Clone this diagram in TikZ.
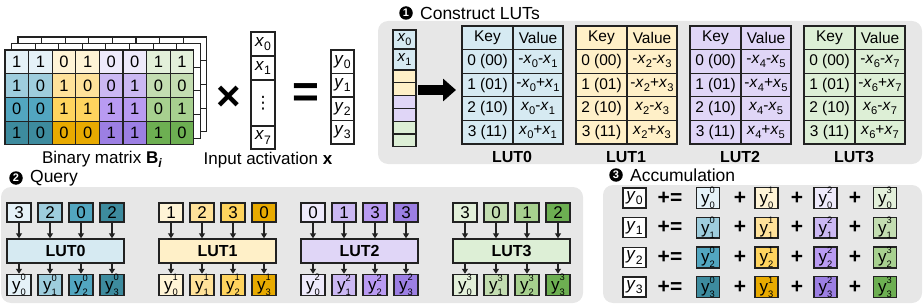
\documentclass[tikz,border=0pt]{standalone}
\usepackage{fontspec}
\setmainfont{Liberation Sans}
\newfontfamily\symf{DejaVu Sans}
\usepackage{graphicx}
\usetikzlibrary{arrows.meta,positioning,calc}

\definecolor{g0r0}{HTML}{E5F2F8}
\definecolor{g0r1}{HTML}{9ECDDD}
\definecolor{g0r2}{HTML}{52A6C0}
\definecolor{g0r3}{HTML}{3D8B9E}
\definecolor{g0t}{HTML}{D6EAF2}
\definecolor{g1r0}{HTML}{FFF4D6}
\definecolor{g1r1}{HTML}{FFE29A}
\definecolor{g1r2}{HTML}{FFD45E}
\definecolor{g1r3}{HTML}{E8AA00}
\definecolor{g1t}{HTML}{FFF0C8}
\definecolor{g2r0}{HTML}{EEEAFB}
\definecolor{g2r1}{HTML}{CBB8F3}
\definecolor{g2r2}{HTML}{B99BF2}
\definecolor{g2r3}{HTML}{9C7FE3}
\definecolor{g2t}{HTML}{E0D6F7}
\definecolor{g3r0}{HTML}{E3F0DA}
\definecolor{g3r1}{HTML}{C3DDB1}
\definecolor{g3r2}{HTML}{A7D08F}
\definecolor{g3r3}{HTML}{6DAF52}
\definecolor{g3t}{HTML}{DDEFD6}
\definecolor{panel}{HTML}{E7E7E7}
\definecolor{edge}{HTML}{222222}

\newcommand\lo[1]{\raisebox{-0.25em}{\scalebox{0.72}{#1}}}
\newcommand\xs[1]{\textit{x}\lo{#1}}
\newcommand\ys[1]{\textit{y}\lo{#1}}
\newcommand\yq[2]{y\rlap{\raisebox{0.55em}{\scalebox{0.55}{#1}}}\raisebox{-0.3em}{\scalebox{0.55}{#2}}}

\begin{document}
\begin{tikzpicture}[
    x=1pt, y=-1pt,
    cell/.style={
      draw=edge,
      line width=1.1pt,
      outer sep=0pt,
      inner sep=0pt,
      minimum width=23.6pt,
      minimum height=23.7pt,
      font=\fontsize{16.5}{16.5}\selectfont
    },
    vcell/.style={
      draw=edge,
      line width=1.1pt,
      outer sep=0pt,
      inner sep=0pt,
      fill=white,
      minimum width=24pt,
      font=\fontsize{17}{17}\selectfont
    },
    scell/.style={vcell, minimum width=23pt, font=\fontsize{15}{15}\selectfont},
    tcell/.style={
      draw=edge,
      line width=1.1pt,
      outer sep=0pt,
      inner sep=0pt,
      minimum height=23.6pt,
      font=\fontsize{15.5}{15.5}\selectfont
    },
    qbox/.style={
      draw=edge,
      line width=1.4pt,
      inner sep=0pt,
      minimum width=24pt,
      minimum height=19pt,
      font=\fontsize{17}{17}\selectfont
    },
    lutbar/.style={qbox, minimum width=117pt, minimum height=24pt, font=\bfseries\fontsize{16}{16}\selectfont},
    abox/.style={qbox, minimum width=23pt, minimum height=20pt, font=\fontsize{17}{17}\selectfont},
    op/.style={font=\bfseries\fontsize{21}{21}\selectfont, inner sep=0pt},
    bigop/.style={font=\bfseries\fontsize{42}{42}\selectfont, inner sep=0pt},
    numdot/.style={circle, fill=black, text=white, inner sep=0pt, minimum size=13.5pt, font=\bfseries\fontsize{11}{11}\selectfont},
    title/.style={font=\fontsize{17.5}{17.5}\selectfont, inner sep=0pt},
    lbl/.style={font=\fontsize{17}{17}\selectfont, inner sep=0pt},
    lutlbl/.style={font=\bfseries\fontsize{16}{16}\selectfont, inner sep=0pt},
    qarr/.style={-{Triangle[length=5pt,width=6pt]}, draw=edge, line width=1.2pt},
    bigarrow/.style={-{Triangle[length=13pt,width=22pt]}, line width=9pt}
  ]

  \useasboundingbox (0,0) rectangle (924,305);

  % panels
  \fill[panel, rounded corners=10pt] (378,21) rectangle (922,164);
  \fill[panel, rounded corners=10pt] (1,187) rectangle (583,303);
  \fill[panel, rounded corners=10pt] (603,185) rectangle (922,303);

  % binary matrix with the layers behind it
  \foreach \k in {2,1}
    \foreach \r in {0,...,3}
      \foreach \c in {0,...,7}
        \node[cell, fill=white] (l\k-\r-\c) at ({16.8+23.6*\c+6.5*\k},{61.9+23.7*\r-6.5*\k}) {};
  \foreach \row [count=\r from 0] in {{1,1,0,1,0,0,1,1},{1,0,1,0,0,1,0,0},{0,0,1,1,1,1,0,1},{1,0,0,0,1,1,1,0}}
    \foreach \b [count=\c from 0] in \row {
      \pgfmathtruncatemacro\g{\c/2}
      \node[cell, fill=g\g r\r] (b-\r-\c) at ({16.8+23.6*\c},{61.9+23.7*\r}) {\b};
    }
  \node[lbl] (blbl) at (102,159) {Binary matrix \textbf{B}\lo{\textbf{\textit{i}}}};

  \node[bigop] (times) at (229,98) {×};

  \node[vcell, minimum height=24pt] (x0) at (263,44) {\xs{0}};
  \node[vcell, minimum height=24pt, below=0pt of x0] (x1) {\xs{1}};
  \node[vcell, minimum height=46pt, below=0pt of x1] (xd) {\symf ⋮};
  \node[vcell, minimum height=23pt, below=0pt of xd] (x7) {\xs{7}};
  \node[lbl] (xlbl) at (268,160) {Input activation \textbf{x}};

  \node[bigop, font=\bfseries\fontsize{46}{46}\selectfont] (eq) at (306,96) {=};

  \foreach \i in {0,...,3}
    \node[vcell, minimum width=23pt, minimum height=23.5pt] (y\i) at (342.5,{61.75+23.5*\i}) {\ys{\i}};

  % construct LUTs
  \node[numdot] (n1) at (406,13) {1};
  \node[title, right=7pt of n1] (t1) {Construct LUTs};

  \node[scell, fill=g0t, minimum height=19pt] (s0) at (404.5,39.5) {\xs{0}};
  \node[scell, fill=g0t, minimum height=21pt, below=0pt of s0] (s1) {\xs{1}};
  \node[scell, fill=g1t, minimum height=12.8pt, below=0pt of s1] (s2) {};
  \node[scell, fill=g1t, minimum height=12.8pt, below=0pt of s2] (s3) {};
  \node[scell, fill=g2t, minimum height=12.8pt, below=0pt of s3] (s4) {};
  \node[scell, fill=g2t, minimum height=12.8pt, below=0pt of s4] (s5) {};
  \node[scell, fill=g3t, minimum height=12.8pt, below=0pt of s5] (s6) {};
  \node[scell, fill=g3t, minimum height=12.8pt, below=0pt of s6] (s7) {};

  \coordinate (ar-a) at (418,90);
  \coordinate (ar-b) at (456,90);
  \draw[bigarrow] (ar-a) -- (ar-b);

  \foreach \k in {0,...,3} {
    \pgfmathtruncatemacro\a{2*\k}
    \pgfmathtruncatemacro\b{2*\k+1}
    \node[tcell, fill=g\k t, minimum width=51pt] (t\k-0-0) at ({487.5+114*\k},37.8) {Key};
    \node[tcell, fill=g\k t, minimum width=50pt] (t\k-0-1) at ({538+114*\k},37.8) {Value};
    \foreach \kk/\vv [count=\r from 1] in {0 (00)/-\xs{\a}-\xs{\b}, 1 (01)/-\xs{\a}+\xs{\b}, 2 (10)/\xs{\a}-\xs{\b}, 3 (11)/\xs{\a}+\xs{\b}} {
      \node[tcell, fill=g\k t, minimum width=51pt] (t\k-\r-0) at ({487.5+114*\k},{37.8+23.6*\r}) {\kk};
      \node[tcell, fill=g\k t, minimum width=50pt] (t\k-\r-1) at ({538+114*\k},{37.8+23.6*\r}) {\vv};
    }
    \node[lutlbl] (tl\k) at ({512+114*\k},157) {LUT\k};
  }

  % query
  \node[numdot] (n2) at (16,178) {2};
  \node[title, right=7pt of n2] (t2) {Query};

  \foreach \s [count=\k from 0] in {7,159,301,453} {
    \node[lutbar, fill=g\k t] (q\k) at ({\s+58.5},251) {LUT\k};
    \foreach \i in {0,...,3} {
      \pgfmathtruncatemacro\v{{3,2,0,2,1,2,3,0,0,1,3,3,3,0,1,2}[4*\k+\i]}
      \node[qbox, fill=g\k r\i] (qi-\k-\i) at ({\s+12+31*\i},212.5) {\v};
      \node[qbox, fill=g\k r\i, minimum height=21pt] (qo-\k-\i) at ({\s+12+31*\i},285) {\yq{\k}{\i}};
      \draw[qarr] (qi-\k-\i) -- (qi-\k-\i |- q\k.north);
      \draw[qarr] (qi-\k-\i |- q\k.south) -- (qo-\k-\i);
    }
  }

  % accumulation
  \node[numdot] (n3) at (616,175) {3};
  \node[title, right=7pt of n3] (t3) {Accumulation};

  \foreach \r in {0,...,3} {
    \node[abox, fill=white] (ay\r) at (634.5,{198+29.7*\r}) {\ys{\r}};
    \node[op] (pe\r) at (670,{198+29.7*\r}) {+=};
    \foreach \cx [count=\j from 0] in {708,766.5,825.5,885}
      \node[abox, fill=g\j r\r] (a-\r-\j) at (\cx,{198+29.7*\r}) {\yq{\j}{\r}};
    \foreach \px [count=\j from 1] in {740,797,855}
      \node[op] (pl\r-\j) at (\px,{198+29.7*\r}) {+};
  }

\end{tikzpicture}
\end{document}
